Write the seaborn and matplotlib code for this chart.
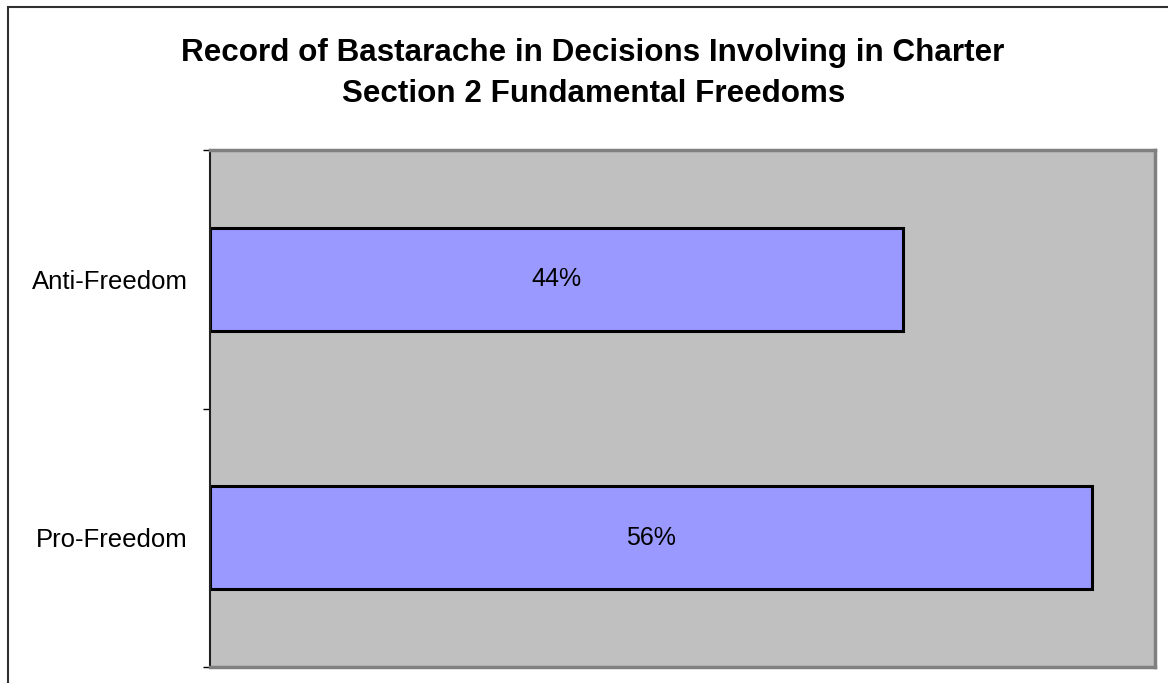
import matplotlib
matplotlib.use("Agg")
import matplotlib.pyplot as plt
import pandas as pd
import seaborn as sns
from matplotlib.patches import Rectangle

categories = ["Anti-Freedom", "Pro-Freedom"]
shares = [44, 56]
value_labels = ["44%", "56%"]
title_lines = ["Record of Bastarache in Decisions Involving in Charter",
               "Section 2 Fundamental Freedoms"]

sns.set_style("white")
plt.rcParams['font.family'] = ['Liberation Sans', 'DejaVu Sans']
plt.rcParams['text.color'] = 'black'

df = pd.DataFrame({"category": categories, "share": shares})

fig = plt.figure(figsize=(11.68, 6.83), dpi=100)
fig.patch.set_facecolor("white")
ax = fig.add_axes([210 / 1168, 1 - 667 / 683, (1155 - 210) / 1168, (667 - 150) / 683])

sns.barplot(data=df, x="share", y="category", orient="h", color="#9999FF",
            saturation=1, edgecolor="black", linewidth=2.2, width=0.4, ax=ax)

ax.set_facecolor("#C0C0C0")
ax.set_xlim(0, 60)
ax.set_ylim(1.5, -0.5)
ax.set_xticks([])
ax.set_xlabel("")
ax.set_ylabel("")

# category labels without marks, small marks on the boundaries
ax.set_yticks([0, 1])
ax.set_yticklabels(categories, fontsize=18.5, color="black")
ax.tick_params(axis="y", which="major", length=0, pad=16)
ax.set_yticks([-0.5, 0.5, 1.5], minor=True)
ax.tick_params(axis="y", which="minor", length=5, width=1, color="black", direction="out", left=True)

ax.bar_label(ax.containers[0], labels=value_labels, label_type="center", fontsize=18, color="black")

for side in ["top", "right", "bottom"]:
    ax.spines[side].set_color("#808080")
    ax.spines[side].set_linewidth(2.5)
ax.spines["left"].set_color("#202020")
ax.spines["left"].set_linewidth(1.5)

fig.text(593 / 1168, 1 - 60.7 / 683, title_lines[0], ha="center", va="baseline",
         fontsize=22.6, fontweight="bold", color="black")
fig.text(594 / 1168, 1 - 102 / 683, title_lines[1], ha="center", va="baseline",
         fontsize=22.6, fontweight="bold", color="black")

# chart border, running off the right and bottom edges
fig.patches.append(Rectangle((8 / 1168, -0.05), 1.1, 1 - 7 / 683 + 0.05, transform=fig.transFigure,
                             fill=False, edgecolor="#303030", linewidth=1.5))

fig.savefig("out.png", dpi=100)
